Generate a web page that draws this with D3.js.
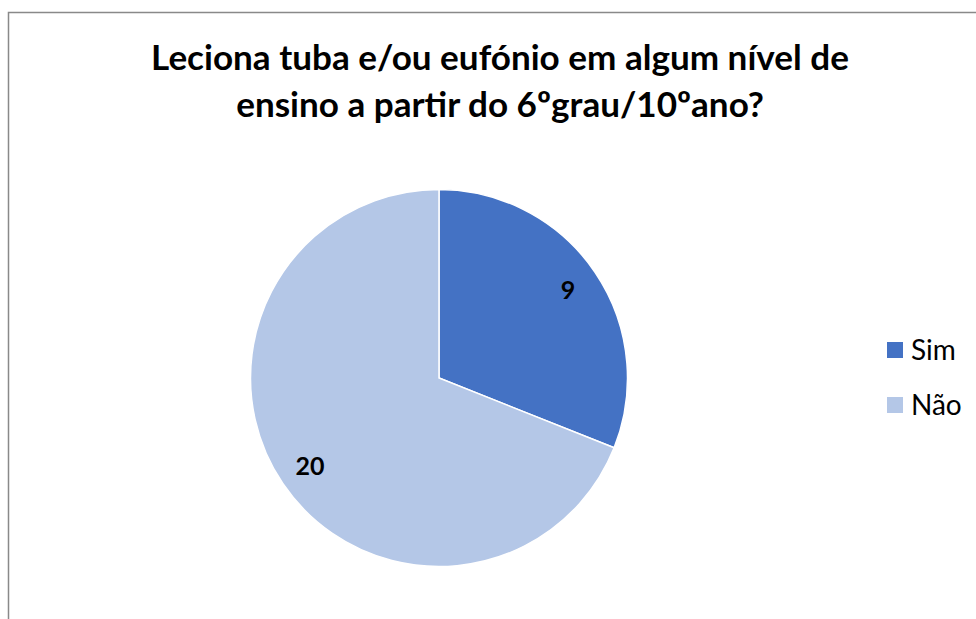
<!DOCTYPE html>
<html>
<head>
<meta charset="utf-8">
<script src="https://cdn.jsdelivr.net/npm/d3@7"></script>
<style>
  body { margin: 0; background: #fff; }
  svg { display: block; font-family: Lato, "Liberation Sans", sans-serif; }
</style>
</head>
<body>
<svg width="976" height="619"></svg>
<script>
// data
var categories = ["Sim", "Não"];
var values = [9, 20];
var colors = ["#4472C4", "#B4C7E7"];
var titleLines = ["Leciona tuba e/ou eufónio em algum nível de", "ensino a partir do 6ºgrau/10ºano?"];

var svg = d3.select("svg");

// chart border
svg.append("rect")
  .attr("x", 8.5).attr("y", 12.5)
  .attr("width", 1000).attr("height", 700)
  .attr("fill", "#fff")
  .attr("stroke", "#898989")
  .attr("stroke-width", 1.5);

// title
var targetW = [698, 530];
var title = svg.append("g");
titleLines.forEach(function(t, i) {
  var txt = title.append("text")
    .attr("x", 500)
    .attr("y", 70 + i * 47)
    .attr("text-anchor", "middle")
    .attr("font-weight", "bold")
    .attr("font-size", 34)
    .attr("fill", "#000")
    .text(t);
  var w = txt.node().getComputedTextLength();
  if (i == 0) {
    var fs = 34 * targetW[0] / w;
    title.selectAll("text").attr("font-size", fs);
  }
});
// keep both lines same size
var fs0 = title.select("text").attr("font-size");
title.selectAll("text").attr("font-size", fs0);

// pie
var cx = 439, cy = 378, r = 188.5;
var pie = d3.pie().sort(null).value(function(d) { return d; });
var arc = d3.arc().innerRadius(0).outerRadius(r);
var labelArc = d3.arc().innerRadius(156).outerRadius(156);

var g = svg.append("g").attr("transform", "translate(" + cx + "," + cy + ")");

g.selectAll("path")
  .data(pie(values))
  .enter().append("path")
  .attr("d", arc)
  .attr("fill", function(d, i) { return colors[i]; })
  .attr("stroke", "#fff")
  .attr("stroke-width", 1.5);

g.selectAll(".lbl")
  .data(pie(values))
  .enter().append("text")
  .attr("class", "lbl")
  .attr("transform", function(d) { return "translate(" + labelArc.centroid(d) + ")"; })
  .attr("text-anchor", "middle")
  .attr("dy", "0.36em")
  .attr("font-weight", "bold")
  .attr("font-size", 25)
  .attr("fill", "#000")
  .text(function(d) { return d.data; });

// legend
var legend = svg.append("g").attr("transform", "translate(887,0)");
var ly = d3.scalePoint().domain(categories).range([350, 405]);

categories.forEach(function(c, i) {
  legend.append("rect")
    .attr("x", 0)
    .attr("y", ly(c) - 8)
    .attr("width", 16).attr("height", 16)
    .attr("fill", colors[i]);
  legend.append("text")
    .attr("x", 24)
    .attr("y", ly(c))
    .attr("dy", "0.36em")
    .attr("font-size", 28)
    .attr("fill", "#000")
    .text(c);
});
</script>
</body>
</html>
